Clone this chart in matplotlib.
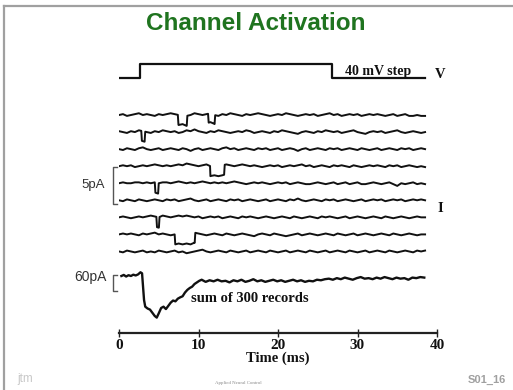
import numpy as np
import matplotlib
matplotlib.use('Agg')
from matplotlib import pyplot as plt

# Slide "Channel Activation": single channel records + their sum

W, H = 513, 390

# voltage command (ms, mV)
step_t = [0, 2.6, 26.8, 38.5]
step_mv = [0, 40, 0, 0]

# single channel records, noise on a 0.5 ms grid (units of 0.1 pA)
GRID = 0.5
noise = [
  [0,1,-1,0,1,2,0,1,0,-1,1,0,1, 2,1,0,1,-1,0,2,1,0,1,2,0,-1, 1,0,2,1,0,-1,1,0,1,2,1,0,-1,
   0,1,0,2,1,0,-1,0,1,0,1,-1,0, 1,2,0,1,-1,0,1,0,1,-1,0,1,0, 1,0,-1,0,1,-1,0,1,-1,-1,0,-1,-1],
  [1,0,-1,1,0,2,1,0,-1,1,0,2,1, 0,1,-1,0,2,1,3,1,0,-1,1,0,2, 1,0,-1,0,1,0,2,1,-1,0,1,0,-1,
   1,0,2,1,0,-1,-2,0,1,0,-1,1,0, 2,1,0,1,-1,0,1,2,0,-1,-2,0,1, 0,1,-1,0,1,2,0,-1,0,1,0,-1,0],
  [0,-1,1,0,-1,1,2,0,-1,0,1,-1,0, 1,0,-1,1,0,-2,0,1,-1,0,1,0,-1, 1,2,0,1,-1,0,1,0,-1,1,0,1,-1,
   0,1,-1,0,1,0,-2,0,1,-1,0,1,0, -1,1,0,1,-1,0,1,0,-1,1,0,-1,0, 1,-1,0,1,0,-1,1,0,1,-1,0,1,0],
  [0,1,0,1,-1,0,1,0,1,2,1,0,1, 0,1,2,1,3,2,1,0,1,2,0,1,0, 1,2,1,0,1,2,1,0,1,0,-1,0,1,
   0,1,-1,0,1,0,1,2,0,1,-1,0,1, 0,-1,1,0,1,0,-1,1,0,-1,0,1,0, 1,0,-1,1,0,1,-1,0,1,0,-1,0,-1],
  [0,1,0,0,1,1,0,1,0,1,0,1,1, 0,1,2,1,0,1,0,1,2,1,0,1,0, 1,0,1,2,1,0,-1,0,1,0,1,0,-1,
   0,1,0,1,-1,0,1,0,-1,-1,0,1,0, -1,0,1,-1,0,1,-1,0,1,-1,-1,0,1, 0,-1,0,1,-1,-3,0,-1,0,1,-1,0,-1],
  [0,-1,1,0,-1,1,0,-1,0,1,0,-1,1, 0,1,-1,0,1,2,0,-1,0,1,-1,0,1, 0,-1,1,0,1,-1,0,1,0,-1,0,1,-1,
   0,1,0,-1,1,0,2,0,-1,0,1,0,-1, 1,0,1,-1,0,1,0,-1,0,1,-1,0,1, 0,1,-1,0,1,0,1,-1,0,1,0,1,0],
  [0,1,0,-1,0,1,0,1,2,1,0,2,1, 0,1,2,1,2,1,0,1,-1,0,1,0,1, -1,0,1,0,-1,1,0,1,0,-1,0,1,0,
   -1,0,1,0,-1,1,0,-1,0,1,0,-1,1, 0,1,0,-1,0,1,-1,0,1,0,-1,0,1, 0,-1,1,0,-1,0,1,0,-1,0,1,0,0],
  [0,1,0,1,0,-1,1,0,1,2,0,1,0, -1,0,1,0,1,0,2,1,0,-1,0,1,0, -1,1,0,-1,0,1,0,-1,-2,0,1,0,-1,
   1,0,-1,-2,-1,0,1,-1,0,1,0,-1,0, 1,0,-1,1,0,-1,0,1,-1,0,1,0,-1, 0,1,0,-1,1,0,-1,0,1,0,-1,0,0],
  [0,-1,1,0,-1,0,1,-1,0,-1,1,0,-1, 0,1,-1,0,-2,-1,0,1,2,0,-1,0,1, 0,-1,1,0,-1,0,1,-1,0,1,0,-1,1,
   0,-1,0,1,-1,0,1,0,-1,1,0,-1,0, 1,-1,0,1,0,-1,1,0,-1,0,1,-1,0, 1,0,-1,1,0,-1,0,1,0,-1,1,0,1],
]

# channel openings: (record, start ms, end ms, amplitude pA)
openings = [
  (0, 7.4, 8.6, 1.35),
  (0, 11.2, 12.1, 1.2),
  (1, 2.8, 3.3, 1.35),
  (3, 11.45, 13.3, 1.35),
  (4, 4.5, 5.0, 1.4),
  (6, 4.7, 5.1, 1.4),
  (7, 7.0, 9.6, 1.35),
]

# ensemble sum of 300 records (ms, pA)
onset_t = [0.3, 0.6, 0.9, 1.2, 1.5, 1.8, 2.1, 2.4, 2.7, 2.9, 3.0, 3.15, 3.3, 3.6, 3.9,
           4.2, 4.5, 4.75, 5.0, 5.3, 5.6, 5.9, 6.2, 6.5, 6.8, 7.1, 7.4, 7.7, 8.0, 8.3,
           8.6, 8.9, 9.2, 9.5, 9.8, 10.1, 10.4]
onset_pa = [0, 4, -2, 3, 0, 5, 2, 6, 14, 10, -30, -90, -115, -122, -126,
            -138, -150, -156, -140, -120, -115, -124, -112, -100, -92, -95, -85, -80, -76, -62,
            -52, -45, -40, -30, -24, -18, -14]
tail_pa = [-22, -16, -20, -14, -20, -18, -24,
           -16, -20, -14, -22, -18, -12, -20, -16, -22, -18, -14, -20,
           -16, -22, -18, -14, -20, -16, -22, -18, -20, -14, -16, -12,
           -10, -14, -8, -12, -6, -10, -14, -8, -4, -10, -8, -12,
           -6, -10, -4, -8, -12, -6, -10, -8, -14, -6, -8, -4, -6]

time_ticks = [0, 10, 20, 30, 40]

# layout (pixels)
X0, X1 = 119, 437
TRACE_GAP = 2.305   # pA between records
EDGE = 0.08         # ms, rise time of an opening
serif = dict(family='Liberation Serif', weight='bold', color='#111111')
sans = dict(family='Liberation Sans', color='#333333')


def px_axes(fig, left, top, width, height):
  ax = fig.add_axes([left / W, 1 - (top + height) / H, width / W, height / H])
  ax.patch.set_alpha(0)
  return ax


def build_record(vals, opens):
  t = np.arange(len(vals)) * GRID
  y = np.array(vals) * 0.12
  pts = list(zip(t, y))
  for (t0, t1, amp) in opens:
    y0 = np.interp(t0, t, y)
    y1 = np.interp(t1, t, y)
    keep = [(a, b) for a, b in pts if not (t0 < a < t1)]
    inside = [(a, b - amp) for a, b in pts if t0 < a < t1]
    pts = keep + [(t0, y0), (t0 + EDGE, y0 - amp)] + inside + [(t1 - EDGE, y1 - amp), (t1, y1)]
    pts.sort()
  return [p[0] for p in pts], [p[1] for p in pts]


fig = plt.figure(figsize=(W / 100, H / 100), dpi=100)

bg = fig.add_axes([0, 0, 1, 1])
bg.set_xlim(0, W)
bg.set_ylim(H, 0)
bg.axis('off')
bg.plot([4, 4], [6, H], color='#a0a0a0', lw=1.6)
bg.plot([4, W], [6, 6], color='#a0a0a0', lw=1.6)

bg.text(256, 24, 'Channel Activation', ha='center', va='center', fontsize=17.5,
        family='Liberation Sans', weight='bold', color='#1f741f')

# voltage step
axv = px_axes(fig, X0, 55, X1 - X0, 30)
axv.plot(step_t, step_mv, drawstyle='steps-post', color='#111111', lw=1.6)
axv.set_xlim(0, 40)
axv.set_ylim(-21.3, 66.3)
axv.axis('off')
bg.text(378, 72, '40 mV step', ha='center', va='center', fontsize=10, **serif)
bg.text(440, 74, 'V', ha='center', va='center', fontsize=10.5, **serif)

# single channel records
axr = px_axes(fig, X0, 100, X1 - X0, 165)
for k, vals in enumerate(noise):
  opens = [(a, b, c) for (r, a, b, c) in openings if r == k]
  t, y = build_record(vals, opens)
  axr.plot(t, np.array(y) - k * TRACE_GAP, color='#111111', lw=1.4)
axr.plot([-0.25, -0.75, -0.75, -0.25], [-7.0, -7.0, -12.0, -12.0], color='#555555',
         lw=1.0, clip_on=False)
axr.set_xlim(0, 40)
axr.set_ylim(-20.27, 2.03)
axr.axis('off')
bg.text(93, 185, '5pA', ha='center', va='center', fontsize=9.5, **sans)
bg.text(440, 208, 'I', ha='center', va='center', fontsize=10.5, **serif)

# sum of records
axs = px_axes(fig, X0, 262, X1 - X0, 63)
tail_t = list(10.9 + np.arange(len(tail_pa)) * GRID)
axs.plot(onset_t + tail_t, onset_pa + tail_pa, color='#111111', lw=1.7)
axs.plot([-0.25, -0.75, -0.75, -0.25], [4, 4, -56, -56], color='#555555', lw=1.0,
         clip_on=False)
axs.set_xlim(0, 40)
axs.set_ylim(-183.75, 52.5)
axs.axis('off')
bg.text(90, 277, '60pA', ha='center', va='center', fontsize=10, **sans)
bg.text(250, 298, 'sum of 300 records', ha='center', va='center', fontsize=10.5, **serif)

# time axis
axt = px_axes(fig, X0, 300, X1 - X0, 33)
axt.set_xlim(0, 40)
axt.set_yticks([])
for s in ['top', 'left', 'right']:
  axt.spines[s].set_visible(False)
axt.spines['bottom'].set_linewidth(1.6)
axt.spines['bottom'].set_color('#222222')
axt.set_xticks(time_ticks)
axt.set_xticklabels([str(v) for v in time_ticks], fontsize=11, **serif)
axt.tick_params(axis='x', direction='inout', length=6, width=1.0, pad=1.0, color='#222222')
axt.set_xlabel('Time (ms)', fontsize=10.5, labelpad=0, **serif)

# footer
bg.text(25, 379, 'jtm', ha='center', va='center', fontsize=8.5, family='Liberation Sans',
        color='#c8c8c8')
bg.text(238, 383, 'Applied Neural Control', ha='center', va='center', fontsize=3.5,
        family='Liberation Serif', color='#888888')
bg.text(487, 380, 'S01_16', ha='center', va='center', fontsize=8, family='Liberation Sans',
        weight='bold', color='#a0a0a0')

fig.savefig('out.png', dpi=100)
